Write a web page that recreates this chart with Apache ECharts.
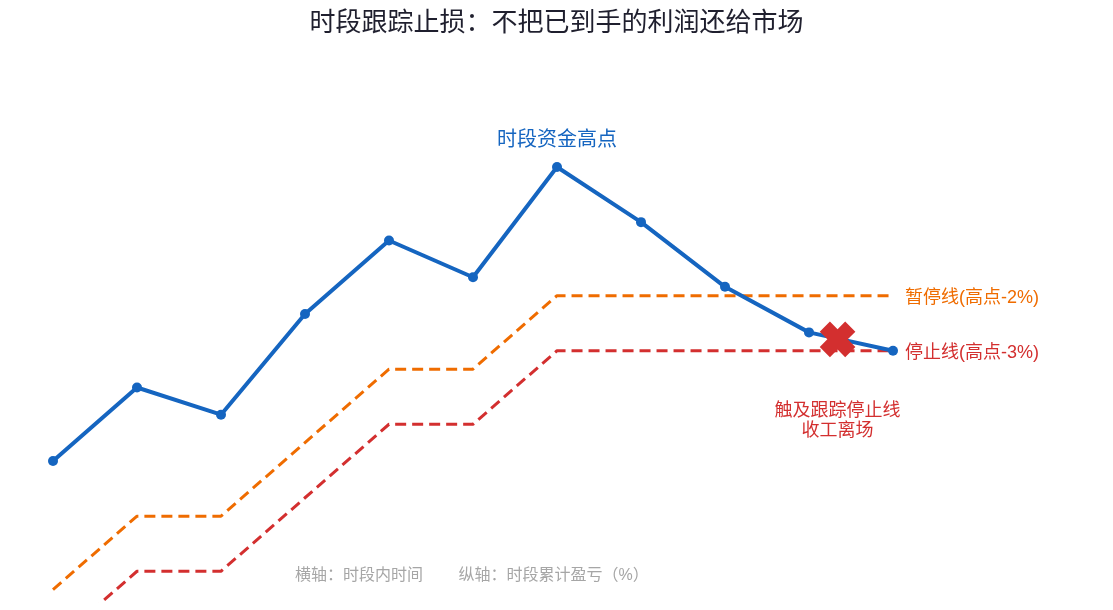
<!DOCTYPE html>
<html>
<head>
<meta charset="utf-8">
<script src="https://cdn.jsdelivr.net/npm/echarts@6/dist/echarts.min.js"></script>
<style>
html,body{margin:0;padding:0;background:#fff;}
#chart{width:1113px;height:610px;}
</style>
</head>
<body>
<div id="chart"></div>
<script>
const timeIdx = [0, 1, 2, 3, 4, 5, 6, 7, 8, 9, 10];
const fundCurve = [0, 1.0, 0.63, 2.0, 3.0, 2.5, 4.0, 3.25, 2.37, 1.75, 1.5];
const pauseLine = [-1.75, -0.75, -0.75, 0.25, 1.25, 1.25, 2.25, 2.25, 2.25, 2.25, 2.25];
const stopLine = [-2.5, -1.5, -1.5, -0.5, 0.5, 0.5, 1.5, 1.5, 1.5, 1.5, 1.5];
const exitPoint = [9.34, 1.655];
const peakIndex = 6;

const titleText = '时段跟踪止损：不把已到手的利润还给市场';
const peakText = '时段资金高点';
const pauseText = '暂停线(高点-2%)';
const stopText = '停止线(高点-3%)';
const exitText = '触及跟踪停止线\n收工离场';
const footerText = '横轴：时段内时间        纵轴：时段累计盈亏（%）';

const BLUE = '#1565C0', ORANGE = '#EF6C00', RED = '#D32F2F';
const FONT = '"Liberation Sans", "Noto Sans CJK SC", sans-serif';

const pair = (arr) => arr.map((v, i) => [timeIdx[i], v]);

const chart = echarts.init(document.getElementById('chart'), null, {renderer: 'canvas'});
chart.setOption({
  backgroundColor: '#ffffff',
  animation: false,
  textStyle: {fontFamily: FONT},
  title: {
    text: titleText, left: 'center', top: 6,
    textStyle: {fontSize: 26, fontWeight: 'normal', color: '#1f1f2e', fontFamily: FONT}
  },
  grid: {left: 53, right: 220, top: 20, height: 580.65},
  xAxis: {type: 'value', min: 0, max: 10, show: false},
  yAxis: {type: 'value', min: -1.9, max: 6, show: false},
  graphic: [{
    type: 'text', left: 295, top: 568,
    style: {text: footerText, fontSize: 16, fill: '#a6a6a6', fontFamily: FONT}
  }],
  series: [
    {
      type: 'line', data: pair(pauseLine), showSymbol: false, z: 2,
      lineStyle: {color: ORANGE, width: 3, type: [11, 6]},
      endLabel: {show: true, formatter: pauseText, color: ORANGE, fontSize: 18, distance: 12, offset: [0, 2], fontFamily: FONT}
    },
    {
      type: 'line', data: pair(stopLine), showSymbol: false, z: 2,
      lineStyle: {color: RED, width: 3, type: [11, 6]},
      endLabel: {show: true, formatter: stopText, color: RED, fontSize: 18, distance: 12, offset: [0, 2], fontFamily: FONT}
    },
    {
      type: 'line', z: 3,
      data: pair(fundCurve).map((p, i) => i === peakIndex ? {
        value: p,
        label: {show: true, position: 'top', distance: 12, formatter: peakText, color: BLUE, fontSize: 20, fontFamily: FONT}
      } : p),
      symbol: 'circle', symbolSize: 10, showAllSymbol: true,
      itemStyle: {color: BLUE},
      lineStyle: {color: BLUE, width: 4}
    },
    {
      type: 'scatter', z: 5,
      data: [exitPoint],
      symbol: 'path://M1.5,0 H3.5 V1.5 H5 V3.5 H3.5 V5 H1.5 V3.5 H0 V1.5 H1.5 Z',
      symbolSize: 36, symbolRotate: 45,
      itemStyle: {color: RED, opacity: 1},
      label: {show: true, position: 'bottom', distance: 36, formatter: exitText, color: RED, fontSize: 18, lineHeight: 20, align: 'center', fontFamily: FONT}
    }
  ]
});
</script>
</body>
</html>
